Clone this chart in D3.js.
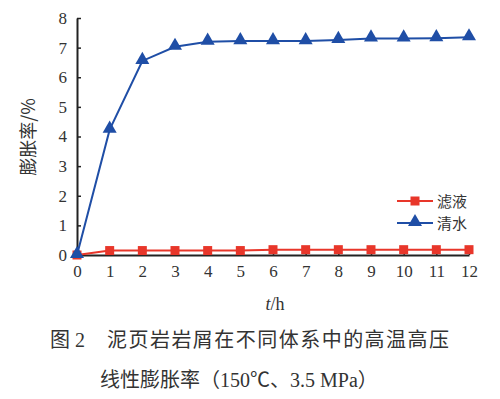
<!DOCTYPE html>
<html>
<head>
<meta charset="utf-8">
<script src="https://cdn.jsdelivr.net/npm/d3@7"></script>
<style>
  body { margin: 0; background: #fff; }
</style>
</head>
<body>
<div id="chart"></div>
<script>
// data
var hours = [0, 1, 2, 3, 4, 5, 6, 7, 8, 9, 10, 11, 12];
var filtrate = [0, 0.15, 0.15, 0.15, 0.15, 0.15, 0.18, 0.18, 0.18, 0.18, 0.18, 0.18, 0.18];
var water = [0, 4.23, 6.55, 7.03, 7.2, 7.22, 7.22, 7.22, 7.26, 7.31, 7.31, 7.32, 7.35];
var yTicks = [0, 1, 2, 3, 4, 5, 6, 7, 8];
var seriesNames = ["滤液", "清水"];

var W = 500, H = 399;
var margin = {top: 18, right: 31, bottom: 144, left: 77};
var width = W - margin.left - margin.right,
    height = H - margin.top - margin.bottom;

var serif = "'Liberation Serif', 'Noto Sans CJK SC', serif",
    cjk = "'Noto Sans CJK SC', sans-serif";

var svg = d3.select("#chart").append("svg")
    .attr("width", W)
    .attr("height", H);

var g = svg.append("g")
    .attr("transform", "translate(" + margin.left + "," + margin.top + ")");

var x = d3.scaleLinear().domain([0, 12]).range([0, width]);
var y = d3.scaleLinear().domain([0, 8]).range([height, 0]);

var red = "#e8362a", blue = "#1f4ea6", axisCol = "#222";

// y axis
var yAxis = g.append("g")
    .call(d3.axisLeft(y).tickValues(yTicks).tickSize(-4).tickPadding(10).tickSizeOuter(0));
yAxis.select(".domain").attr("stroke", axisCol).attr("stroke-width", 2);
yAxis.selectAll(".tick line").attr("stroke", axisCol).attr("stroke-width", 1.5);
yAxis.selectAll("text").style("font-size", "17px").style("font-family", serif).attr("fill", "#333");

// x axis
var xAxis = g.append("g")
    .attr("transform", "translate(0," + height + ")")
    .call(d3.axisBottom(x).tickValues(hours).tickSize(-4).tickPadding(10).tickSizeOuter(0));
xAxis.select(".domain").attr("stroke", axisCol).attr("stroke-width", 2);
xAxis.selectAll(".tick line").attr("stroke", axisCol).attr("stroke-width", 1.5);
xAxis.selectAll("text").style("font-size", "17px").style("font-family", serif).attr("fill", "#333");

var line = d3.line()
    .x(function (d, i) { return x(hours[i]); })
    .y(function (d) { return y(d); });

// 滤液
g.append("path").datum(filtrate)
    .attr("fill", "none").attr("stroke", red).attr("stroke-width", 2)
    .attr("d", line);
g.selectAll(".sq").data(filtrate).enter().append("rect")
    .attr("class", "sq")
    .attr("x", function (d, i) { return x(hours[i]) - 4.5; })
    .attr("y", function (d) { return y(d) - 4.5; })
    .attr("width", 9).attr("height", 9)
    .attr("fill", red);

// 清水
var tri = d3.symbol().type(d3.symbolTriangle).size(85);
g.append("path").datum(water)
    .attr("fill", "none").attr("stroke", blue).attr("stroke-width", 2)
    .attr("d", line);
g.selectAll(".tri").data(water).enter().append("path")
    .attr("class", "tri")
    .attr("d", tri)
    .attr("transform", function (d, i) {
        return "translate(" + x(hours[i]) + "," + (y(d) - 1) + ")";
    })
    .attr("fill", blue);

// legend
var legGap = 22;
var leg = svg.append("g").attr("transform", "translate(397,201)");
leg.append("line").attr("x1", 0).attr("x2", 36).attr("y1", 0).attr("y2", 0)
    .attr("stroke", red).attr("stroke-width", 2);
leg.append("rect").attr("x", 13.5).attr("y", -4.5).attr("width", 9).attr("height", 9).attr("fill", red);
leg.append("line").attr("x1", 0).attr("x2", 36).attr("y1", legGap).attr("y2", legGap)
    .attr("stroke", blue).attr("stroke-width", 2);
leg.append("path").attr("d", tri).attr("transform", "translate(18," + (legGap - 1) + ")").attr("fill", blue);
leg.selectAll("text").data(seriesNames).enter().append("text")
    .attr("x", 40)
    .attr("y", function (d, i) { return i * legGap + 6; })
    .style("font-size", "15px")
    .style("font-family", cjk)
    .attr("fill", "#333")
    .text(function (d) { return d; });

// axis titles
svg.append("text")
    .attr("transform", "translate(35,137) rotate(-90)")
    .attr("text-anchor", "middle")
    .style("font-size", "18px")
    .style("font-family", cjk)
    .attr("fill", "#333")
    .text("膨胀率/%");

var xt = svg.append("text")
    .attr("x", 275).attr("y", 310)
    .attr("text-anchor", "middle")
    .style("font-size", "18px")
    .style("font-family", serif)
    .attr("fill", "#333");
xt.append("tspan").attr("font-style", "italic").text("t");
xt.append("tspan").text("/h");

// caption
svg.append("text")
    .attr("x", 50).attr("y", 347)
    .style("font-size", "20px")
    .style("font-family", serif)
    .attr("fill", "#333")
    .text("图 2");
svg.append("text")
    .attr("x", 107).attr("y", 347)
    .style("font-size", "20px")
    .style("font-family", cjk)
    .attr("fill", "#333")
    .attr("textLength", 342)
    .text("泥页岩岩屑在不同体系中的高温高压");
svg.append("text")
    .attr("x", 100).attr("y", 387)
    .style("font-size", "20px")
    .style("font-family", serif)
    .attr("fill", "#333")
    .text("线性膨胀率（150℃、3.5 MPa）");
</script>
</body>
</html>
